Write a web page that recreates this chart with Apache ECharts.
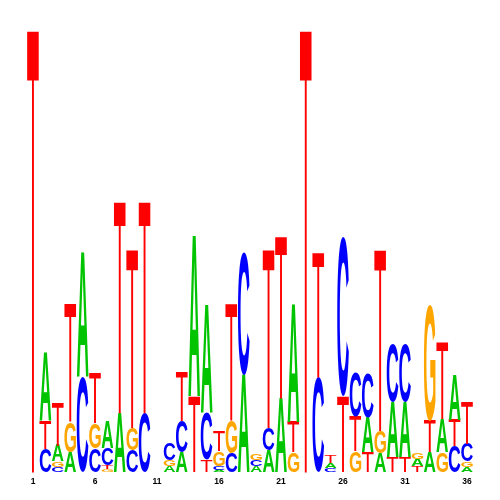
<!DOCTYPE html>
<html><head><meta charset="utf-8">
<script src="https://cdn.jsdelivr.net/npm/echarts/dist/echarts.min.js"></script>
<style>html,body{margin:0;padding:0;background:#fff}#chart{width:500px;height:500px}</style>
</head><body><div id="chart"></div>
<script>
// Sequence logo: information content (bits) of each letter at each position
const positions = ['1','2','3','4','5','6','7','8','9','10','11','12','13','14','15','16','17','18',
  '19','20','21','22','23','24','25','26','27','28','29','30','31','32','33','34','35','36'];
const tickLabels = ['1','6','11','16','21','26','31','36'];
const letterNames = ['A','C','G','T'];
const letterColors = ['#00C400','#0000FF','#FFA500','#FF0000'];
const heightA = [0,0.308,0.072,0.090,0.561,0,0.118,0.267,0,0,0,0.027,0.090,0.724,0.484,0.009,0,0.439,
  0.027,0.100,0.335,0.534,0,0,0.023,0,0,0.158,0.086,0.249,0.249,0.032,0.090,0.149,0.204,0.023];
const heightC = [0,0.106,0.023,0,0.430,0.109,0.077,0,0.100,0.267,0,0.077,0.140,0,0.217,0.018,0.086,0.557,
  0.027,0.100,0,0,0,0.430,0.020,0.724,0.204,0.204,0,0.262,0.262,0,0,0,0.118,0.081];
const heightG = [0,0,0.025,0.136,0,0.113,0.014,0,0.100,0,0,0.027,0,0,0,0.068,0.149,0,
  0.032,0,0,0.090,0,0,0,0,0.095,0,0.100,0,0,0.032,0.525,0.090,0,0.025];
const heightT = [2.000,0.129,0.199,0.534,0,0.226,0.016,0.955,0.805,0.955,0,0,0.217,0.344,0.054,0.090,0.525,0,
  0,0.805,0.729,0.136,2.000,0.561,0.036,0.344,0.154,0.090,0.819,0.068,0.068,0.027,0.145,0.348,0.118,0.190];
const heights = [heightA, heightC, heightG, heightT];

const FONT_FAMILY = '"Liberation Sans"';
const FONT_WEIGHTS = ['bold', 'bold', 'bold', 'normal'];
const FS = 200;

// measure the ink box of each glyph (drawn centered / middle-baseline, like zrender does)
function measureGlyph(L, li) {
  const S = 400;
  const c = document.createElement('canvas');
  c.width = S; c.height = S;
  const ctx = c.getContext('2d');
  ctx.font = FONT_WEIGHTS[li] + ' ' + FS + 'px ' + FONT_FAMILY;
  ctx.textAlign = 'center';
  ctx.textBaseline = 'middle';
  ctx.fillStyle = '#000';
  ctx.fillText(L, S / 2, S / 2);
  const d = ctx.getImageData(0, 0, S, S).data;
  let minX = S, minY = S, maxX = -1, maxY = -1;
  for (let y = 0; y < S; y++) {
    for (let x = 0; x < S; x++) {
      if (d[(y * S + x) * 4 + 3] > 127) {
        if (x < minX) minX = x; if (x > maxX) maxX = x;
        if (y < minY) minY = y; if (y > maxY) maxY = y;
      }
    }
  }
  return { left: minX - S / 2, top: minY - S / 2, w: maxX - minX + 1, h: maxY - minY + 1 };
}
const metrics = letterNames.map(measureGlyph);

// stack letters per position, smallest at the bottom
const stacks = [];
positions.forEach((p, i) => {
  const items = letterNames.map((L, li) => ({ li, h: heights[li][i] })).filter(d => d.h > 0);
  items.sort((a, b) => a.h - b.h);
  let y = 0;
  items.forEach(d => { stacks.push([i, y, y + d.h, d.li]); y += d.h; });
});

function renderItem(params, api) {
  const i = api.value(0), y0 = api.value(1), y1 = api.value(2), li = api.value(3);
  const pb = api.coord([i, y0]);
  const pt = api.coord([i, y1]);
  const w = api.size([1, 0])[0] * 0.93;
  const h = pb[1] - pt[1];
  if (h < 0.3) return null;
  const m = metrics[li];
  const sx = w / m.w, sy = h / m.h;
  const left = pb[0] - w / 2;
  return {
    type: 'text',
    x: left - sx * m.left,
    y: pt[1] - sy * m.top,
    scaleX: sx,
    scaleY: sy,
    style: {
      text: letterNames[li],
      fontSize: FS,
      fontFamily: FONT_FAMILY,
      fontWeight: FONT_WEIGHTS[li],
      fill: letterColors[li],
      align: 'center',
      verticalAlign: 'middle'
    }
  };
}

const chart = echarts.init(document.getElementById('chart'), null, { renderer: 'canvas' });
chart.setOption({
  animation: false,
  backgroundColor: '#fff',
  grid: { left: 26.8, right: 26.8, top: 30, bottom: 28 },
  xAxis: {
    type: 'category',
    data: positions,
    axisLine: { show: false },
    axisTick: { show: false },
    splitLine: { show: false },
    axisLabel: {
      interval: 0,
      margin: 5,
      color: '#000',
      fontSize: 8.5,
      fontWeight: 'bold',
      fontFamily: 'Liberation Sans',
      formatter: v => tickLabels.includes(v) ? v : ''
    }
  },
  yAxis: { type: 'value', min: 0, max: 2, show: false },
  series: [{
    type: 'custom',
    renderItem: renderItem,
    data: stacks,
    encode: { x: 0, y: [1, 2] },
    clip: false
  }]
});
</script></body></html>
